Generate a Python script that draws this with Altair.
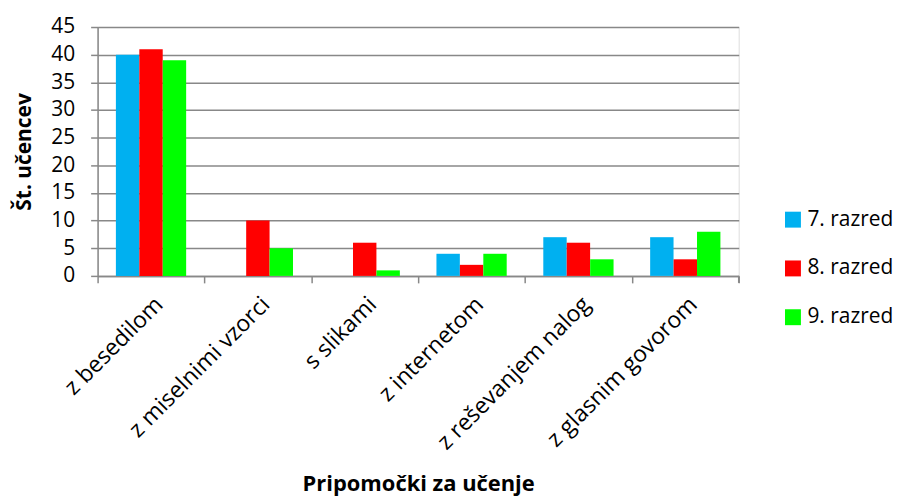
import altair as alt
import pandas as pd

categories = ["z besedilom", "z miselnimi vzorci", "s slikami", "z internetom",
              "z reševanjem nalog", "z glasnim govorom"]
series = ["7. razred", "8. razred", "9. razred"]
v7 = [40, 0, 0, 4, 7, 7]
v8 = [41, 10, 6, 2, 6, 3]
v9 = [39, 5, 1, 4, 3, 8]
colors = ["#00B0F0", "#FF0000", "#00FF00"]

rows = []
for s, vals in zip(series, [v7, v8, v9]):
    for c, v in zip(categories, vals):
        rows.append({"cat": c, "series": s, "value": v})
df = pd.DataFrame(rows)

FONT = "Open Sans"
W, H = 644, 250

bars = alt.Chart(df).mark_bar(size=23.5).encode(
    x=alt.X("cat:N", sort=categories,
            scale=alt.Scale(paddingInner=0, paddingOuter=0),
            axis=alt.Axis(title="Pripomočki za učenje", labelAngle=-45,
                          labelAlign="right", labelBaseline="top", labelLimit=0,
                          bandPosition=0, ticks=True, tickSize=7, tickBand="extent",
                          labelFontSize=23, labelFont=FONT, labelColor="#000",
                          titleFont=FONT, titleFontSize=22, titleFontWeight="bold",
                          titleColor="#000", titlePadding=19, labelPadding=10,
                          domainColor="#888", domainWidth=1.5,
                          tickColor="#888", tickWidth=1.5, grid=False)),
    xOffset=alt.XOffset("series:N", sort=series,
                        scale=alt.Scale(paddingOuter=0.78, paddingInner=0)),
    y=alt.Y("value:Q", scale=alt.Scale(domain=[0, 45], nice=False),
            axis=alt.Axis(title="Št. učencev", values=list(range(0, 50, 5)),
                          labelFontSize=21, labelFont=FONT, labelColor="#000",
                          titleFont=FONT, titleFontSize=21, titleFontWeight="bold",
                          titleColor="#000", titlePadding=16,
                          tickSize=7, tickColor="#888", tickWidth=1.5,
                          domainColor="#888", domainWidth=1.5,
                          gridColor="#888", gridWidth=1.5, labelPadding=16)),
    color=alt.Color("series:N", sort=series,
                    scale=alt.Scale(domain=series, range=colors),
                    legend=alt.Legend(title=None, orient="none", legendX=688, legendY=183,
                                      symbolType="square", symbolSize=256,
                                      symbolStrokeWidth=0,
                                      labelFontSize=21, labelFont=FONT, labelColor="#000",
                                      rowPadding=27, labelOffset=4)),
)

end_tick = alt.Chart(pd.DataFrame({"a": [0]})).mark_rule(color="#888", strokeWidth=1.5).encode(
    x=alt.value(W), y=alt.value(H), y2=alt.value(H + 7))

chart = alt.layer(bars, end_tick).properties(
    width=W, height=H,
    autosize=alt.AutoSizeParams(type="none"),
    padding={"left": 90, "top": 18, "right": 157, "bottom": 224},
).configure_view(stroke=None).configure(background="white")

chart.save("out.html", embed_options={"renderer": "svg", "actions": False})
